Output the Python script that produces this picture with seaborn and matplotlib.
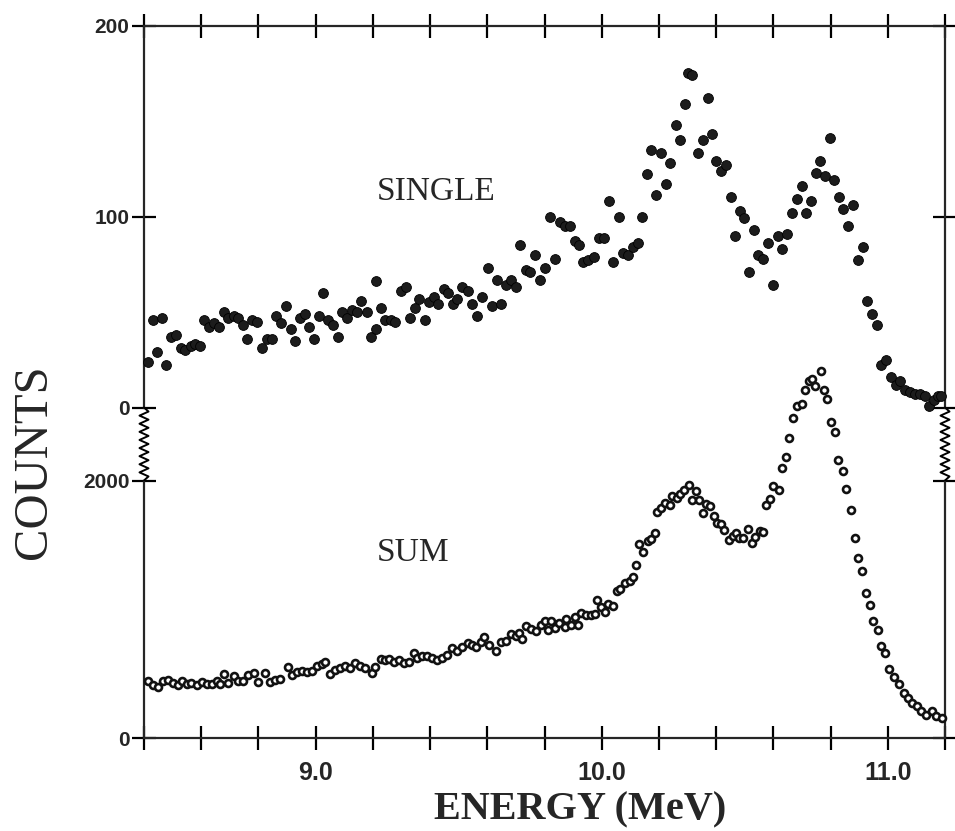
import numpy as np
import pandas as pd
import matplotlib
matplotlib.use("Agg")
import matplotlib.pyplot as plt
from matplotlib.lines import Line2D
import seaborn as sns

# ---------------- data ----------------
single_energy = [
    8.413, 8.431, 8.446, 8.464, 8.478, 8.496, 8.511, 8.528, 8.545, 8.563,
    8.578, 8.596, 8.611, 8.628, 8.644, 8.661, 8.680, 8.695, 8.713, 8.728,
    8.745, 8.759, 8.777, 8.795, 8.811, 8.829, 8.846, 8.862, 8.879, 8.895,
    8.914, 8.928, 8.944, 8.962, 8.978, 8.995, 9.012, 9.027, 9.043, 9.060,
    9.079, 9.092, 9.109, 9.127, 9.146, 9.160, 9.178, 9.193, 9.211, 9.212,
    9.228, 9.244, 9.262, 9.279, 9.299, 9.315, 9.330, 9.346, 9.362, 9.381,
    9.396, 9.412, 9.428, 9.447, 9.464, 9.481, 9.495, 9.513, 9.531, 9.548,
    9.565, 9.580, 9.601, 9.615, 9.633, 9.648, 9.665, 9.683, 9.701, 9.715,
    9.734, 9.751, 9.767, 9.783, 9.801, 9.819, 9.837, 9.853, 9.871, 9.888,
    9.905, 9.922, 9.936, 9.953, 9.973, 9.992, 10.009, 10.026, 10.041, 10.060,
    10.076, 10.093, 10.110, 10.127, 10.142, 10.159, 10.174, 10.191, 10.207, 10.223,
    10.239, 10.259, 10.274, 10.291, 10.303, 10.316, 10.337, 10.353, 10.372, 10.385,
    10.400, 10.418, 10.436, 10.451, 10.466, 10.483, 10.499, 10.515, 10.532, 10.548,
    10.564, 10.583, 10.598, 10.615, 10.630, 10.648, 10.665, 10.682, 10.699, 10.715,
    10.731, 10.748, 10.764, 10.780, 10.797, 10.813, 10.828, 10.845, 10.861, 10.877,
    10.897, 10.913, 10.929, 10.944, 10.964, 10.978, 10.995, 11.012, 11.030, 11.044,
    11.061, 11.079, 11.096, 11.113, 11.131, 11.145, 11.160, 11.175, 11.187,
]
single_counts = [
    24, 46, 29, 47, 22, 37, 38, 31, 30, 32,
    33, 32, 46, 42, 44, 42, 50, 47, 48, 47,
    43, 36, 46, 45, 31, 36, 36, 48, 44, 53,
    41, 35, 47, 49, 42, 36, 48, 60, 46, 43,
    37, 50, 47, 51, 50, 56, 50, 37, 41, 66,
    52, 46, 46, 45, 61, 63, 47, 52, 57, 46,
    55, 58, 54, 62, 60, 54, 57, 63, 61, 54,
    48, 58, 73, 53, 67, 54, 64, 67, 63, 85,
    72, 71, 80, 67, 73, 100, 78, 97, 95, 95,
    87, 85, 76, 77, 79, 89, 89, 108, 76, 100,
    81, 80, 84, 86, 100, 122, 135, 111, 133, 117,
    128, 148, 140, 159, 175, 174, 133, 140, 162, 143,
    129, 124, 127, 110, 90, 103, 99, 71, 93, 80,
    78, 86, 64, 90, 83, 91, 102, 109, 116, 102,
    108, 123, 129, 121, 141, 119, 110, 104, 95, 106,
    77, 84, 56, 49, 43, 22, 25, 16, 12, 14,
    9, 8, 7, 7, 6, 1, 4, 6, 6,
]

sum_energy = [
    8.415, 8.432, 8.450, 8.467, 8.485, 8.502, 8.520, 8.532, 8.549, 8.566,
    8.584, 8.602, 8.619, 8.636, 8.654, 8.665, 8.678, 8.695, 8.713, 8.730,
    8.747, 8.765, 8.783, 8.800, 8.823, 8.841, 8.858, 8.876, 8.905, 8.917,
    8.935, 8.952, 8.970, 8.987, 9.005, 9.022, 9.034, 9.051, 9.069, 9.086,
    9.104, 9.121, 9.139, 9.156, 9.173, 9.197, 9.209, 9.227, 9.244, 9.256,
    9.273, 9.291, 9.308, 9.326, 9.343, 9.355, 9.373, 9.390, 9.407, 9.425,
    9.442, 9.460, 9.478, 9.495, 9.513, 9.531, 9.548, 9.559, 9.577, 9.589,
    9.606, 9.629, 9.647, 9.665, 9.683, 9.700, 9.712, 9.723, 9.736, 9.753,
    9.770, 9.788, 9.800, 9.812, 9.823, 9.835, 9.852, 9.870, 9.876, 9.893,
    9.905, 9.916, 9.929, 9.946, 9.964, 9.975, 9.985, 9.999, 10.010, 10.023,
    10.040, 10.052, 10.064, 10.082, 10.100, 10.108, 10.121, 10.131, 10.146, 10.161,
    10.174, 10.186, 10.195, 10.207, 10.221, 10.238, 10.247, 10.262, 10.274, 10.286,
    10.304, 10.314, 10.330, 10.341, 10.355, 10.364, 10.378, 10.393, 10.404, 10.418,
    10.429, 10.444, 10.458, 10.470, 10.481, 10.493, 10.511, 10.524, 10.536, 10.552,
    10.563, 10.574, 10.588, 10.599, 10.618, 10.629, 10.644, 10.656, 10.669, 10.681,
    10.699, 10.709, 10.724, 10.736, 10.747, 10.765, 10.776, 10.789, 10.801, 10.816,
    10.827, 10.843, 10.855, 10.870, 10.884, 10.897, 10.909, 10.923, 10.938, 10.950,
    10.965, 10.976, 10.991, 11.004, 11.021, 11.040, 11.055, 11.070, 11.084, 11.101,
    11.116, 11.135, 11.153, 11.170, 11.188,
]
sum_counts = [
    441, 413, 400, 439, 450, 424, 410, 444, 422, 427,
    408, 433, 420, 419, 444, 418, 495, 430, 481, 441,
    440, 492, 504, 434, 503, 437, 449, 456, 551, 486,
    511, 523, 510, 522, 560, 573, 590, 494, 532, 544,
    557, 543, 581, 560, 541, 506, 553, 616, 603, 615,
    589, 602, 580, 587, 664, 625, 637, 637, 623, 609,
    621, 646, 698, 672, 710, 735, 721, 708, 746, 785,
    719, 679, 744, 755, 807, 793, 819, 766, 869, 843,
    829, 881, 906, 841, 905, 853, 891, 864, 922, 877,
    941, 876, 971, 952, 952, 964, 1073, 1015, 976, 1040,
    1026, 1143, 1155, 1206, 1219, 1250, 1342, 1503, 1445, 1528,
    1548, 1591, 1752, 1785, 1823, 1810, 1882, 1866, 1899, 1925,
    1968, 1846, 1916, 1850, 1748, 1818, 1805, 1726, 1668, 1660,
    1616, 1538, 1568, 1594, 1554, 1554, 1623, 1514, 1565, 1604,
    1603, 1810, 1853, 1957, 1925, 2099, 2184, 2331, 2488, 2576,
    2596, 2705, 2772, 2789, 2737, 2848, 2702, 2632, 2458, 2379,
    2163, 2072, 1937, 1767, 1557, 1396, 1299, 1127, 1031, 908,
    835, 718, 658, 536, 470, 423, 347, 313, 273, 252,
    207, 181, 206, 172, 152,
]

x_ticks = [8.4, 8.6, 8.8, 9.0, 9.2, 9.4, 9.6, 9.8, 10.0, 10.2, 10.4, 10.6, 10.8, 11.0, 11.2]
x_labels = ["", "", "", "9.0", "", "", "", "", "10.0", "", "", "", "", "11.0", ""]
single_yticks = [0, 100, 200]
sum_yticks = [0, 2000]

single_df = pd.DataFrame({"energy": single_energy, "counts": single_counts})
sum_df = pd.DataFrame({"energy": sum_energy, "counts": sum_counts})

# ---------------- style ----------------
sns.set_style("ticks")
plt.rcParams["font.family"] = ["Liberation Sans", "DejaVu Sans"]
plt.rcParams["axes.linewidth"] = 1.5

W_PX, H_PX = 955, 831
fig = plt.figure(figsize=(W_PX / 100, H_PX / 100), dpi=100)
fig.patch.set_facecolor("white")

left_px, right_px = 144, 945
top_px, single0_px, sum2000_px, bottom_px = 25.5, 407.5, 480.5, 738.0

L = left_px / W_PX
Wd = (right_px - left_px) / W_PX
ax_sum = fig.add_axes([L, (H_PX - bottom_px) / H_PX, Wd, (bottom_px - top_px) / H_PX])
ax_top = fig.add_axes([L, (H_PX - single0_px) / H_PX, Wd, (single0_px - top_px) / H_PX])
for a in (ax_sum, ax_top):
    a.patch.set_alpha(0)
    a.set_xlim(8.4, 11.2)

sum_top = (bottom_px - top_px) / (bottom_px - sum2000_px) * 2000
ax_sum.set_ylim(0, sum_top)
ax_top.set_ylim(0, 200)

# ---------------- data marks ----------------
sns.scatterplot(data=sum_df, x="energy", y="counts", ax=ax_sum,
                marker="o", s=25, facecolor="white", edgecolor="#111111",
                linewidth=1.9, clip_on=False, legend=False, zorder=3)
sns.scatterplot(data=single_df, x="energy", y="counts", ax=ax_top,
                marker="o", s=50, color="#1c1c1c", edgecolor="#000000",
                linewidth=0.6, clip_on=False, legend=False, zorder=3)

# ---------------- axes styling ----------------
tick_kw = dict(direction="inout", length=17, width=1.6, color="black")

# top panel
ax_top.spines["bottom"].set_visible(False)
for s in ("top", "left", "right"):
    ax_top.spines[s].set_linewidth(1.6)
ax_top.set_xticks(x_ticks)
ax_top.tick_params(axis="x", top=True, bottom=False, labeltop=False, labelbottom=False, **tick_kw)
ax_top.set_yticks(single_yticks)
ax_top.set_yticklabels([str(v) for v in single_yticks])
ax_top.tick_params(axis="y", left=True, right=True, labelleft=True, labelright=False,
                   labelsize=15, pad=2, **tick_kw)
for lab in ax_top.get_yticklabels():
    lab.set_fontweight("bold")
ax_top.set_xlabel("")
ax_top.set_ylabel("")

# bottom panel
ax_sum.spines["top"].set_visible(False)
ax_sum.spines["left"].set_bounds(0, 2000)
ax_sum.spines["right"].set_bounds(0, 2000)
for s in ("bottom", "left", "right"):
    ax_sum.spines[s].set_linewidth(1.6)
ax_sum.set_xticks(x_ticks)
ax_sum.set_xticklabels(x_labels)
ax_sum.tick_params(axis="x", top=False, bottom=True, labelbottom=True,
                   labelsize=18, pad=8, **tick_kw)
ax_sum.set_yticks(sum_yticks)
ax_sum.set_yticklabels([str(v) for v in sum_yticks])
ax_sum.tick_params(axis="y", left=True, right=True, labelleft=True, labelright=False,
                   labelsize=15, pad=2, **tick_kw)
for lab in ax_sum.get_xticklabels() + ax_sum.get_yticklabels():
    lab.set_fontweight("bold")
ax_sum.set_xlabel("")
ax_sum.set_ylabel("")

# ---------------- axis-break zigzags ----------------
def zigzag(x_px, y0_px, y1_px, n=9, amp=4.5):
    ys = np.linspace(y0_px, y1_px, 2 * n + 1)
    xs = np.full_like(ys, x_px)
    xs[1:-1:2] += amp
    xs[2:-1:2] -= amp
    return xs / W_PX, 1 - ys / H_PX

for xp in (left_px, right_px):
    zx, zy = zigzag(xp, single0_px, sum2000_px)
    fig.add_artist(Line2D(zx, zy, transform=fig.transFigure, color="black", lw=1.4))

# ---------------- texts ----------------
serif = ["Liberation Serif", "DejaVu Serif"]
ax_top.text(9.42, 113, "SINGLE", ha="center", va="center", fontsize=24, family=serif)
ax_sum.text(9.34, 1440, "SUM", ha="center", va="center", fontsize=24, family=serif)
fig.text(34 / W_PX, 1 - 462 / H_PX, "COUNTS", rotation=90, ha="center", va="center",
         fontsize=35, family=serif)
fig.text(580 / W_PX, 1 - 810 / H_PX, "ENERGY (MeV)", ha="center", va="center",
         fontsize=29, family=serif, fontweight="bold")

fig.savefig("out.png", dpi=100, facecolor="white")
